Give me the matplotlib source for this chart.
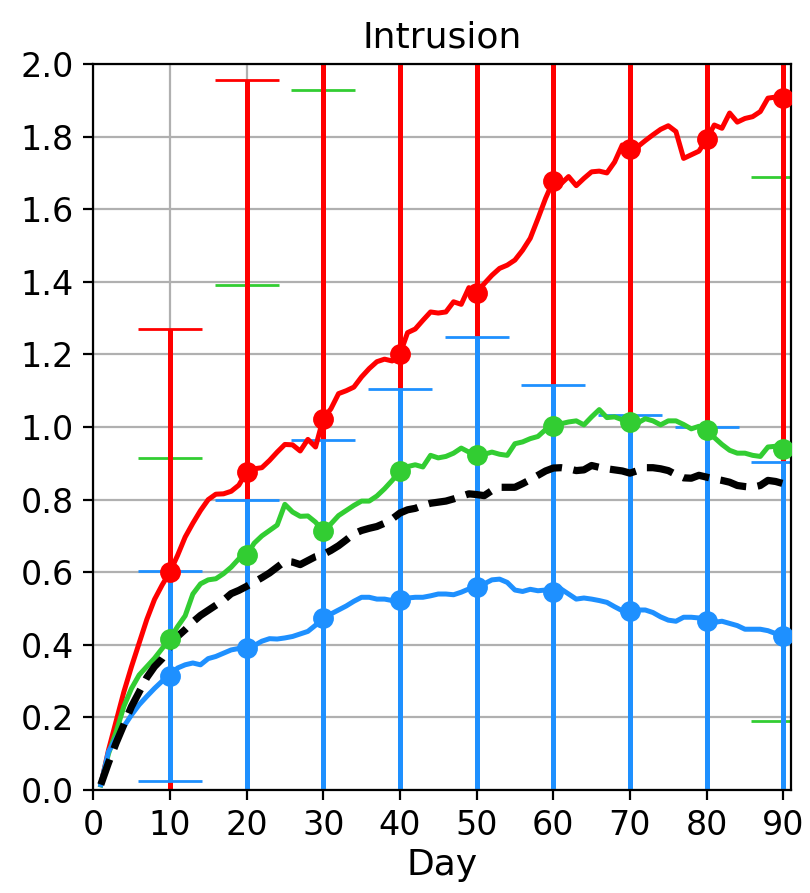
import numpy as np
import matplotlib
matplotlib.use("Agg")
import matplotlib.pyplot as plt

# daily mean intrusion per group, days 1..90
days = np.arange(1, 91)

red_mean = [
    0.015, 0.11, 0.19, 0.27, 0.34, 0.405, 0.47, 0.525, 0.565, 0.60,
    0.646, 0.697, 0.735, 0.77, 0.80, 0.815, 0.816, 0.823, 0.84, 0.876,
    0.885, 0.888, 0.908, 0.931, 0.952, 0.951, 0.934, 0.966, 0.945, 1.023,
    1.05, 1.092, 1.10, 1.11, 1.138, 1.161, 1.18, 1.187, 1.182, 1.20,
    1.26, 1.27, 1.294, 1.317, 1.314, 1.317, 1.345, 1.338, 1.384, 1.37,
    1.395, 1.418, 1.437, 1.446, 1.46, 1.487, 1.52, 1.574, 1.63, 1.678,
    1.67, 1.69, 1.665, 1.685, 1.703, 1.705, 1.70, 1.73, 1.777, 1.765,
    1.772, 1.789, 1.805, 1.82, 1.83, 1.814, 1.74, 1.75, 1.76, 1.793,
    1.832, 1.823, 1.865, 1.84, 1.85, 1.855, 1.869, 1.906, 1.909, 1.906,
]

green_mean = [
    0.014, 0.10, 0.16, 0.23, 0.28, 0.317, 0.34, 0.363, 0.39, 0.416,
    0.45, 0.48, 0.54, 0.568, 0.579, 0.582, 0.596, 0.614, 0.637, 0.647,
    0.68, 0.70, 0.715, 0.73, 0.787, 0.766, 0.754, 0.755, 0.738, 0.713,
    0.733, 0.756, 0.77, 0.784, 0.796, 0.796, 0.81, 0.83, 0.853, 0.878,
    0.891, 0.896, 0.89, 0.922, 0.915, 0.919, 0.928, 0.942, 0.931, 0.922,
    0.925, 0.931, 0.925, 0.922, 0.954, 0.959, 0.968, 0.974, 0.993, 1.004,
    1.009, 1.014, 1.017, 1.006, 1.028, 1.048, 1.026, 1.028, 1.02, 1.014,
    1.011, 1.023, 1.017, 1.006, 1.017, 1.017, 1.007, 0.995, 1.002, 0.991,
    0.971, 0.952, 0.936, 0.928, 0.928, 0.922, 0.919, 0.945, 0.947, 0.94,
]

blue_mean = [
    0.015, 0.106, 0.143, 0.175, 0.207, 0.235, 0.258, 0.28, 0.30, 0.314,
    0.336, 0.345, 0.35, 0.345, 0.362, 0.368, 0.377, 0.386, 0.39, 0.39,
    0.398, 0.41, 0.417, 0.416, 0.419, 0.423, 0.43, 0.437, 0.454, 0.474,
    0.485, 0.496, 0.507, 0.52, 0.531, 0.531, 0.526, 0.526, 0.522, 0.524,
    0.529, 0.531, 0.531, 0.535, 0.54, 0.54, 0.538, 0.545, 0.554, 0.559,
    0.568, 0.579, 0.581, 0.572, 0.551, 0.547, 0.553, 0.549, 0.551, 0.545,
    0.554, 0.54, 0.526, 0.529, 0.526, 0.522, 0.517, 0.505, 0.494, 0.492,
    0.496, 0.496, 0.489, 0.477, 0.468, 0.465, 0.476, 0.476, 0.474, 0.466,
    0.462, 0.465, 0.459, 0.453, 0.443, 0.443, 0.443, 0.439, 0.431, 0.425,
]

all_mean = [
    0.015, 0.075, 0.13, 0.18, 0.23, 0.27, 0.31, 0.34, 0.362, 0.394,
    0.423, 0.442, 0.463, 0.481, 0.495, 0.509, 0.523, 0.541, 0.55, 0.561,
    0.573, 0.585, 0.598, 0.614, 0.63, 0.628, 0.621, 0.632, 0.643, 0.649,
    0.66, 0.673, 0.689, 0.706, 0.715, 0.721, 0.726, 0.735, 0.747, 0.763,
    0.772, 0.776, 0.784, 0.79, 0.793, 0.796, 0.802, 0.809, 0.816, 0.814,
    0.811, 0.825, 0.834, 0.834, 0.834, 0.844, 0.855, 0.867, 0.879, 0.887,
    0.888, 0.885, 0.88, 0.882, 0.894, 0.889, 0.885, 0.882, 0.879, 0.873,
    0.88, 0.888, 0.888, 0.885, 0.88, 0.869, 0.86, 0.859, 0.867, 0.862,
    0.857, 0.853, 0.848, 0.839, 0.836, 0.834, 0.839, 0.853, 0.85, 0.844,
]

# standard deviations on the checkpoint days 10, 20, ..., 90
red_sd = [0.67, 1.08, 1.30, 1.45, 1.60, 1.75, 1.80, 1.85, 1.95]
green_sd = [0.50, 0.745, 1.215, 1.20, 1.30, 1.20, 1.10, 1.05, 0.75]
blue_sd = [0.29, 0.41, 0.49, 0.58, 0.69, 0.57, 0.54, 0.535, 0.48]

RED, GREEN, BLUE = "red", "limegreen", "dodgerblue"

fig = plt.figure(figsize=(4.05, 4.465), dpi=200)
ax = fig.add_axes([0.115, 0.1153, 0.8615, 0.8130])

chk = slice(9, None, 10)
ebkw = dict(fmt="none", elinewidth=1.8, capsize=11.5, capthick=1.0, zorder=2)
for mean, sd, col in [(green_mean, green_sd, GREEN),
                      (red_mean, red_sd, RED),
                      (blue_mean, blue_sd, BLUE)]:
    ax.errorbar(days[chk], np.asarray(mean)[chk], yerr=sd, ecolor=col, **ebkw)

for mean, col in [(red_mean, RED), (green_mean, GREEN), (blue_mean, BLUE)]:
    ax.plot(days, mean, color=col, lw=1.8, zorder=3)
ax.plot(days, all_mean, color="black", lw=2.6, ls="--", zorder=4)
for mean, col in [(red_mean, RED), (green_mean, GREEN), (blue_mean, BLUE)]:
    ax.plot(days[chk], np.asarray(mean)[chk], "o", color=col, ms=6.5, zorder=5)

ax.set_xlim(0, 91)
ax.set_ylim(0, 2.0)
ax.set_xticks(np.arange(0, 91, 10))
ax.set_yticks(np.arange(0, 2.01, 0.2))
ax.yaxis.set_major_formatter(matplotlib.ticker.FormatStrFormatter("%.1f"))
ax.tick_params(labelsize=12)
ax.grid(True, color="#b0b0b0", lw=0.8, zorder=0)
ax.set_axisbelow(True)
ax.set_title("Intrusion", fontsize=13)
ax.set_xlabel("Day", fontsize=13, labelpad=2)

fig.savefig("out.png", dpi=200)
